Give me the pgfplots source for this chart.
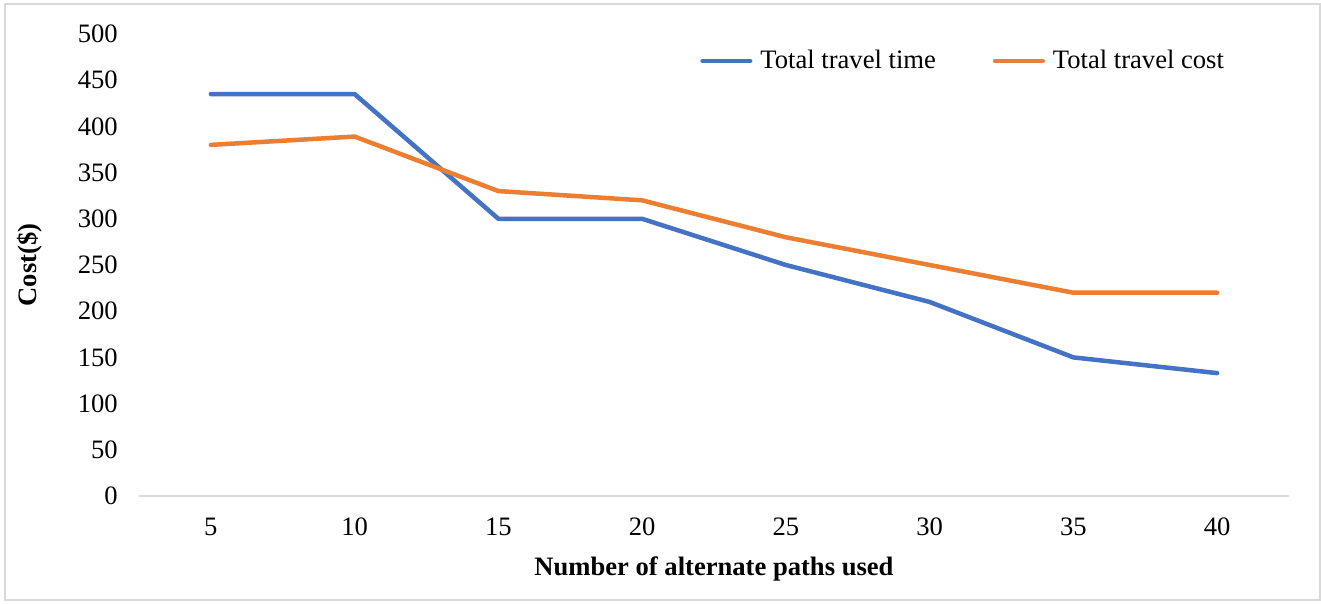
\documentclass[border=0pt]{standalone}
\usepackage{fontspec}
\setmainfont{Liberation Serif}
\usepackage{pgfplots}
\pgfplotsset{compat=1.18}
\definecolor{cblue}{HTML}{4472C4}
\definecolor{corange}{HTML}{ED7D31}
\definecolor{cgrid}{HTML}{D9D9D9}
\begin{document}
\begin{tikzpicture}
\useasboundingbox (0,0) rectangle (660.5pt,302pt);
\draw[cgrid, line width=0.75pt] (2.5pt,2pt) rectangle (660pt,300pt);
\begin{axis}[
  at={(69.5pt,54pt)}, anchor=south west,
  scale only axis, width=575pt, height=231pt,
  xmin=-0.5, xmax=7.5, ymin=0, ymax=500,
  xtick={0,...,7}, xticklabels={5,10,15,20,25,30,35,40},
  ytick={0,50,...,500},
  axis lines*=left,
  y axis line style={draw=none},
  x axis line style={draw=cgrid, line width=1.25pt, -},
  tick style={draw=none},
  /pgf/number format/assume math mode=true,
  tick label style={font=\fontsize{13.3}{15}\selectfont},
  yticklabel style={xshift=-7.1pt},
  xticklabel style={yshift=-7.6pt},
  xlabel={Number of alternate paths used},
  ylabel={Cost(\$)},
  label style={font=\fontsize{13.3}{15}\selectfont\bfseries},
  xlabel style={at={(axis description cs:0.5,0)}, anchor=center, yshift=-36.5pt},
  ylabel style={at={(axis description cs:0,0.5)}, anchor=center, rotate=0, yshift=54.5pt},
  legend columns=2,
  legend style={draw=none, fill=none, at={(axis description cs:0.4878,0.9416)}, anchor=west,
    inner sep=0pt, font=\fontsize{13.3}{15}\selectfont,
    nodes={inner sep=0pt},
    /tikz/every even column/.append style={column sep=28.5pt},
    /tikz/every odd column/.append style={column sep=4pt}},
  legend image code/.code={\draw[#1, line cap=round] (1.1pt,0pt) -- (24.9pt,0pt);},
  every axis plot/.append style={line width=2.25pt, line join=round, line cap=round},
]
\addplot[cblue] coordinates {(0,435) (1,435) (2,300) (3,300) (4,250) (5,210) (6,150) (7,133)};
\addlegendentry{Total travel time}
\addplot[corange] coordinates {(0,380) (1,389) (2,330) (3,320) (4,280) (5,250) (6,220) (7,220)};
\addlegendentry{Total travel cost}
\end{axis}
\end{tikzpicture}
\end{document}
